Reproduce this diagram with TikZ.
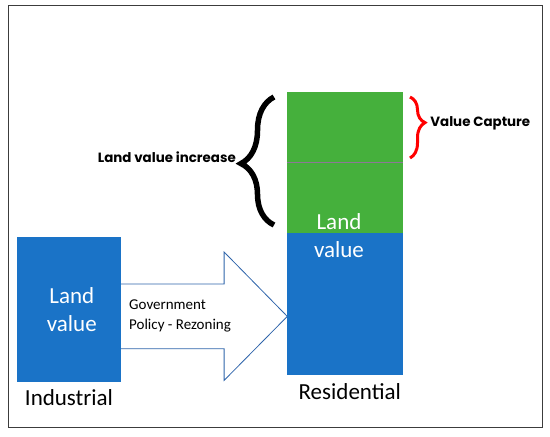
\documentclass[tikz,border=0pt]{standalone}
\usepackage{fontspec}
\setmainfont{Carlito}
\newfontfamily\gothfont{Poppins}
\usetikzlibrary{decorations.pathreplacing, positioning}

\definecolor{landblue}{RGB}{26,115,199}
\definecolor{landgreen}{RGB}{69,176,60}
\definecolor{splitline}{RGB}{140,120,150}
\definecolor{arrowblue}{RGB}{46,100,170}
\definecolor{framegray}{RGB}{60,60,60}

\begin{document}
\begin{tikzpicture}[
  x=1pt, y=-1pt,
  valbox/.style={rectangle, fill=landblue, inner sep=0pt, minimum width=104pt, minimum height=145pt},
  gainbox/.style={rectangle, fill=landgreen, inner sep=0pt, minimum width=115.5pt, minimum height=141pt},
  valtext/.style={text=white, align=center, font=\fontsize{23}{28}\selectfont},
  zonelbl/.style={font=\fontsize{23}{28}\selectfont, inner sep=0pt},
  policytext/.style={align=left, font=\fontsize{15}{20}\selectfont, inner sep=2pt},
  bracelbl/.style={font=\gothfont\bfseries\fontsize{13.4}{15}\selectfont, inner sep=0pt},
  arrowline/.style={draw=arrowblue, fill=white, line width=0.8pt, line join=miter},
  bigbrace/.style={decorate, decoration={brace, amplitude=33pt, aspect=0.48}, line width=5.5pt},
  capbrace/.style={decorate, decoration={brace, amplitude=15pt, aspect=0.42}, line width=3pt, red}
]

\useasboundingbox (0,0) rectangle (550,437);
\draw[framegray, line width=1.4pt] (8.7,5.7) rectangle (542.3,427.5);

% Policy arrow
\coordinate (tip) at (287.3,316.4);
\draw[arrowline] (120.8,284) -- (224.1,284) -- (224.1,252) -- (tip)
  -- (224.1,380.4) -- (224.1,348.7) -- (120.8,348.7);
\node[policytext, anchor=west] (policy) at (127,316) {Government\\Policy - Rezoning};

% Industrial side
\node[valbox, valtext] (ind) at (68.8,309.9) {\hspace*{6pt}Land\\\hspace*{6pt}value};
\node[zonelbl, anchor=base] (indlbl) at (69,405.7) {Industrial};

% Residential side
\node[valbox, minimum width=115.5pt, minimum height=142.3pt] (res) at (345,304.15) {};
\node[gainbox, anchor=south] (gain) at (res.north) {};
\draw[splitline, line width=0.6pt] (gain.west |- 0,162) -- (gain.east |- 0,162);
\node[valtext] (resval) at (339,236) {Land\\value};
\node[zonelbl, anchor=base] (reslbl) at (349.8,399.7) {Residential};

% Braces
\coordinate (inctop) at (274,97);
\coordinate (incbot) at (274,225);
\draw[bigbrace] (incbot) -- (inctop);
\node[bracelbl, anchor=east] (inc) at (236,157) {Land value increase};

\coordinate (captop) at (410,97);
\coordinate (capbot) at (410,158);
\draw[capbrace] (captop) -- (capbot);
\node[bracelbl, anchor=west] (cap) at (430.2,123) {Value Capture};

\end{tikzpicture}
\end{document}
